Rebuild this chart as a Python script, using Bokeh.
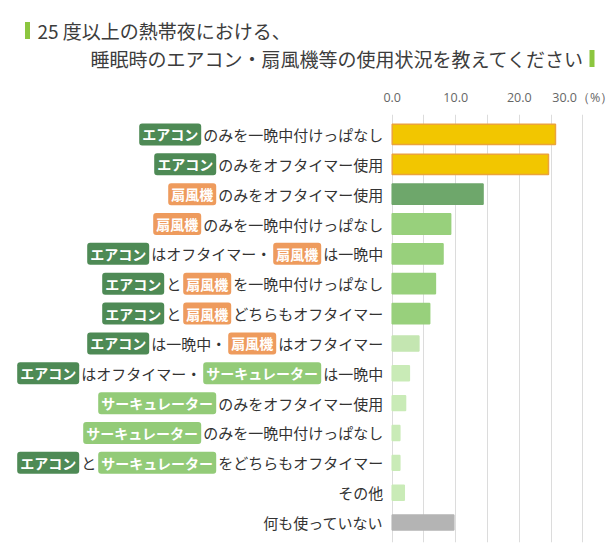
import re
from bokeh.plotting import figure
from bokeh.layouts import column
from bokeh.models import ColumnDataSource, FactorRange, Range1d, FixedTicker
from bokeh.core.properties import value
from bokeh.embed import file_html
from bokeh.resources import INLINE

# ---------------- data ----------------
title_line1 = "25 度以上の熱帯夜における、"
title_line2 = "睡眠時のエアコン・扇風機等の使用状況を教えてください"

# [..] marks a highlighted keyword badge
labels = [
    "[エアコン]のみを一晩中付けっぱなし",
    "[エアコン]のみをオフタイマー使用",
    "[扇風機]のみをオフタイマー使用",
    "[扇風機]のみを一晩中付けっぱなし",
    "[エアコン]はオフタイマー・[扇風機]は一晩中",
    "[エアコン]と[扇風機]を一晩中付けっぱなし",
    "[エアコン]と[扇風機]どちらもオフタイマー",
    "[エアコン]は一晩中・[扇風機]はオフタイマー",
    "[エアコン]はオフタイマー・[サーキュレーター]は一晩中",
    "[サーキュレーター]のみをオフタイマー使用",
    "[サーキュレーター]のみを一晩中付けっぱなし",
    "[エアコン]と[サーキュレーター]をどちらもオフタイマー",
    "その他",
    "何も使っていない",
]
values = [25.7, 24.6, 14.3, 9.2, 8.0, 6.8, 5.9, 4.2, 2.7, 2.1, 1.2, 1.2, 1.9, 9.7]

tick_values = [0, 10, 20, 30]
tick_labels = ["0.0", "10.0", "20.0", "30.0（%）"]
grid_values = [0, 5, 10, 15, 20, 25, 30]

# ---------------- styles ----------------
bar_colors = ["#f2c600", "#f2c600", "#6ea76b", "#98d07c", "#98d07c", "#98d07c", "#98d07c",
              "#c4e6b1", "#c9ebb7", "#c9ebb7", "#c9ebb7", "#c9ebb7", "#c9ebb7", "#b4b4b4"]
bar_lines = ["#eba33b", "#eba33b"] + bar_colors[2:]
badge_colors = {"エアコン": "#4e8a55", "扇風機": "#ee9b5d", "サーキュレーター": "#93cb78"}
FONT = "Noto Sans CJK JP"
FS_TEXT, FS_BADGE, GAP, LABEL_END = 15, 14, 2, 9
TITLE_H = 85

cats = [re.sub(r"[\[\]]", "", s) for s in labels]
heights = [0.68 if i < 7 else 0.5 for i in range(len(cats))]

# ---------------- title block ----------------
t = figure(width=615, height=TITLE_H, x_range=Range1d(0, 615), y_range=Range1d(TITLE_H, 0),
           output_backend="svg", toolbar_location=None,
           x_axis_location=None, y_axis_location=None,
           min_border=0)
t.outline_line_color = None
t.grid.visible = False
t.text(x=[37], y=[30], text=[title_line1], text_align="left", text_baseline="middle",
       text_font=value(FONT), text_font_size=value("19px"), text_color="#3c3c3c")
t.text(x=[584], y=[58], text=[title_line2], text_align="right", text_baseline="middle",
       text_font=value(FONT), text_font_size=value("19px"), text_color="#3c3c3c")
t.quad(left=[24.5, 589], right=[29.5, 594], top=[21.5, 49.5], bottom=[38.5, 66.5],
       fill_color="#8cc63f", line_color=None)

# ---------------- chart ----------------
p = figure(width=615, height=550 - TITLE_H,
           y_range=FactorRange(factors=cats[::-1], range_padding=0.024),
           x_range=Range1d(-61.66, 35.15),
           output_backend="svg", toolbar_location=None,
           x_axis_location="above", y_axis_location=None,
           min_border_left=0, min_border_right=0, min_border_top=113 - TITLE_H,
           min_border_bottom=8)
p.outline_line_color = None

p.xgrid.ticker = FixedTicker(ticks=grid_values)
p.xgrid.grid_line_color = "#dcdcdc"
p.ygrid.visible = False

ax = p.xaxis[0]
ax.ticker = FixedTicker(ticks=tick_values)
ax.major_label_overrides = dict(zip(tick_values, tick_labels))
ax.axis_line_color = None
ax.major_tick_line_color = None
ax.minor_tick_line_color = None
ax.major_label_standoff = 3
ax.major_label_text_font_size = "12.5px"
ax.major_label_text_color = "#666666"
ax.major_label_text_font = "Open Sans"

src = ColumnDataSource(dict(y=cats, right=values, color=bar_colors, line=bar_lines, h=heights))
p.hbar(y="y", left=0, right="right", height="h", fill_color="color", line_color="line",
       line_width=1.5, source=src)

# category labels with badges
plain = dict(y=[], text=[], xo=[])
badge = dict(y=[], text=[], xo=[], fill=[])
for lab, cat in zip(labels, cats):
    segs = re.findall(r"\[([^\]]+)\]|([^\[]+)", lab)
    cursor = LABEL_END
    for b, s in reversed(segs):
        if b:
            w = len(b) * FS_BADGE + 6
            badge["y"].append(cat); badge["text"].append(b)
            badge["xo"].append(-cursor); badge["fill"].append(badge_colors[b])
        else:
            w = len(s) * FS_TEXT
            plain["y"].append(cat); plain["text"].append(s); plain["xo"].append(-cursor)
        cursor += w + GAP

p.text(x=0, y="y", text="text", x_offset="xo", source=ColumnDataSource(plain),
       text_align="right", text_baseline="middle", text_font=value(FONT),
       text_font_size=value(f"{FS_TEXT}px"), text_color="#333333")
p.text(x=0, y="y", text="text", x_offset="xo", source=ColumnDataSource(badge),
       text_align="right", text_baseline="middle", text_font=value(FONT),
       text_font_size=value(f"{FS_BADGE}px"), text_font_style="bold", text_color="white",
       background_fill_color="fill", padding=(3, 1), border_radius=3)

layout = column(t, p, spacing=0)
open("out.html", "w").write(file_html(layout, INLINE))
